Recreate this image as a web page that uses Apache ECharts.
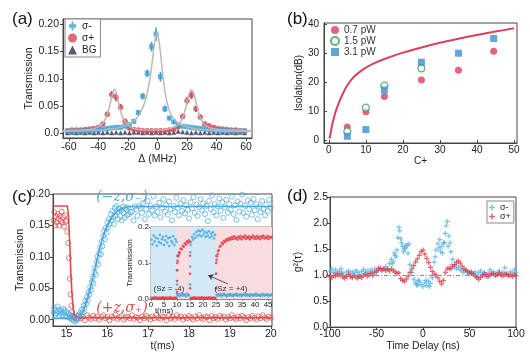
<!DOCTYPE html>
<html>
<head>
<meta charset="utf-8">
<script src="https://cdn.jsdelivr.net/npm/echarts@6/dist/echarts.min.js"></script>
<style>
html, body { margin: 0; padding: 0; background: #fff; }
#chart { width: 530px; height: 353px; }
</style>
</head>
<body>
<div id="chart"></div>
<script>
// ---------- (a) transmission vs detuning ----------
const detuning = [-61, -58, -55, -52, -49, -46, -43, -40, -37, -34,
    -31, -28, -25, -22, -19, -16, -13, -10, -7, -4,
    -1, 2, 5, 8, 11, 14, 17, 20, 23, 26,
    29, 32, 35, 38, 41, 44, 47, 50, 53, 56,
    59];
const sigmaMinusA = [.004, .004, .004, .004, .005, .005, .006, .007, .008, .009,
    .010, .011, .011, .013, .016, .022, .038, .068, .110, .159,
    .182, .104, .045, .028, .021, .016, .013, .012, .011, .010,
    .009, .008, .007, .006, .006, .005, .005, .004, .004, .004,
    .004];
const sigmaMinusErr = [.002, .002, .002, .002, .002, .002, .002, .002, .002, .002,
    .002, .002, .002, .003, .003, .004, .005, .006, .007, .009,
    .012, .009, .006, .004, .003, .003, .002, .002, .002, .002,
    .002, .002, .002, .002, .002, .002, .002, .002, .002, .002,
    .002];
const sigmaPlusA = [.005, .006, .006, .006, .007, .008, .009, .011, .017, .035,
    .071, .066, .048, .022, .010, .007, .006, .005, .005, .005,
    .005, .005, .005, .006, .007, .012, .031, .060, .070, .045,
    .030, .017, .014, .011, .009, .008, .007, .006, .006, .005,
    .005];
const sigmaPlusErr = [.002, .002, .002, .002, .002, .002, .002, .002, .003, .005,
    .007, .007, .006, .004, .003, .002, .002, .002, .002, .002,
    .002, .002, .002, .002, .002, .003, .005, .007, .007, .006,
    .004, .003, .002, .002, .002, .002, .002, .002, .002, .002,
    .002];
const bgA = [.001, .002, .001, .002, .001, .002, .001, .002, .001, .002,
    .001, .002, .001, .002, .001, .002, .002, .001, .002, .001,
    .002, .001, .002, .001, .002, .004, .003, .002, .001, .002,
    .001, .002, .001, .002, .001, .002, .001, .002, .001, .002,
    .001];
// fitted lorentzians
const fitMinusA = [[-64, .004], [-50, .005], [-40, .006], [-30, .009], [-25, .011], [-20, .016],
    [-16, .023], [-13, .032], [-11, .041], [-9, .054], [-7, .073], [-5, .102], [-4, .122],
    [-3, .144], [-2, .165], [-1, .180], [-0.5, .185], [0, .183], [1, .170], [2, .148],
    [3, .122], [4, .098], [5, .078], [6, .062], [8, .042], [10, .031], [13, .021],
    [16, .016], [20, .012], [25, .009], [30, .007], [40, .005], [50, .004], [64, .004]];
const fitPlusA = [[-64, .005], [-50, .006], [-44, .008], [-41, .011], [-38, .016], [-36, .023],
    [-34, .035], [-33, .044], [-32, .055], [-31, .067], [-30, .076], [-29.3, .081],
    [-28.5, .079], [-27.5, .071], [-26.5, .058], [-25.5, .046], [-24.5, .036], [-23, .026],
    [-21, .018], [-19, .013], [-16, .009], [-10, .006], [0, .006], [6, .007], [10, .010],
    [13, .014], [15, .019], [16.5, .026], [18, .036], [19, .046], [20, .058], [21, .069],
    [22, .077], [23, .080], [24, .077], [25, .069], [26, .058], [27, .046], [28, .036],
    [29.5, .026], [31, .019], [33, .014], [36, .010], [42, .007], [52, .006], [64, .005]];

// ---------- (b) isolation vs C+ ----------
const cPlusB = [5, 10, 15, 25, 35, 44.5];
const iso07 = [4.5, 9.8, 15.0, 20.7, 24.1, 30.7];
const cPlus15 = [5, 10, 15, 25];
const iso15 = [3.0, 11.2, 18.8, 24.8];
const iso31 = [1.3, 3.6, 17.3, 26.9, 30.0, 35.1];
const theoryB = [[0.2, 0.5], [0.5, 2.6], [1, 5.8], [1.5, 8.3], [2, 10.4], [3, 13.8], [4, 16.6],
    [5, 18.9], [6, 20.7], [7, 22.1], [8, 23.2], [10, 25.0], [12, 26.4], [15, 28.0],
    [20, 30.2], [25, 32.0], [30, 33.6], [35, 35.0], [40, 36.3], [45, 37.5], [50, 38.6]];

// ---------- (c) time trace ----------
const blueTrace = [[14.68, .012], [14.70, .019], [14.72, .008], [14.74, .015], [14.76, .010], [14.78, .021],
    [14.80, .013], [14.82, .006], [14.84, .016], [14.86, .010], [14.88, .014], [14.90, .007], [14.92, .017],
    [14.94, .011], [14.96, .015], [14.98, .006], [15.00, .012], [15.02, .004], [15.04, .010], [15.06, .003],
    [15.08, .008], [15.10, .002], [15.12, .006], [15.14, .000], [15.16, .004], [15.18, -.002], [15.20, .003],
    [15.22, -.003], [15.24, .002], [15.26, .006], [15.28, .001], [15.30, .008], [15.32, .004], [15.34, .011],
    [15.36, .006], [15.38, .016], [15.40, .012], [15.42, .022], [15.44, .018], [15.46, .030], [15.48, .025],
    [15.50, .036], [15.52, .031], [15.54, .044], [15.56, .040], [15.58, .052], [15.60, .047], [15.62, .060],
    [15.64, .068], [15.66, .058], [15.68, .075], [15.70, .083], [15.72, .072], [15.74, .092], [15.76, .100],
    [15.78, .088], [15.80, .106], [15.82, .115], [15.84, .104], [15.86, .124], [15.88, .117], [15.90, .133],
    [15.92, .141], [15.94, .128], [15.96, .146], [15.98, .138], [16.00, .155], [16.02, .147], [16.04, .160],
    [16.06, .152], [16.08, .168], [16.10, .158], [16.12, .173], [16.14, .163], [16.16, .152], [16.18, .178],
    [16.20, .166], [16.22, .181], [16.24, .171], [16.26, .160], [16.28, .177], [16.30, .176], [16.32, .165],
    [16.34, .174], [16.36, .158], [16.38, .180], [16.40, .170], [16.42, .162], [16.44, .178], [16.46, .175],
    [16.48, .166], [16.50, .179], [16.53, .168], [16.57, .171], [16.60, .172], [16.64, .158], [16.67, .180],
    [16.71, .175], [16.74, .165], [16.78, .181], [16.81, .178], [16.85, .170], [16.88, .186], [16.92, .160],
    [16.95, .176], [16.99, .189], [17.02, .168], [17.06, .181], [17.09, .174], [17.13, .196], [17.16, .166],
    [17.20, .180], [17.23, .171], [17.27, .186], [17.30, .163], [17.34, .178], [17.37, .192], [17.41, .172],
    [17.44, .183], [17.48, .167], [17.51, .188], [17.55, .176], [17.58, .158], [17.62, .181], [17.65, .171],
    [17.69, .194], [17.72, .178], [17.76, .166], [17.79, .185], [17.83, .173], [17.86, .190], [17.90, .169],
    [17.93, .182], [17.97, .175], [18.00, .161], [18.04, .187], [18.07, .177], [18.11, .195], [18.14, .170],
    [18.18, .183], [18.21, .165], [18.25, .179], [18.28, .192], [18.32, .174], [18.35, .185], [18.39, .168],
    [18.42, .181], [18.46, .157], [18.49, .189], [18.53, .176], [18.56, .198], [18.60, .171], [18.63, .184],
    [18.67, .166], [18.70, .180], [18.74, .193], [18.77, .173], [18.81, .187], [18.84, .162], [18.88, .179],
    [18.91, .191], [18.95, .170], [18.98, .184], [19.02, .175], [19.05, .196], [19.09, .168], [19.12, .182],
    [19.16, .159], [19.19, .188], [19.23, .172], [19.26, .185], [19.30, .199], [19.33, .170], [19.37, .181],
    [19.40, .164], [19.44, .190], [19.47, .176], [19.51, .186], [19.54, .167], [19.58, .192], [19.61, .174],
    [19.65, .184], [19.68, .160], [19.72, .180], [19.75, .171], [19.79, .189], [19.82, .176], [19.86, .166],
    [19.89, .183], [19.93, .173], [19.96, .191], [20.00, .178]];
const redTrace = [[14.68, .158], [14.70, .171], [14.72, .150], [14.74, .164], [14.76, .155], [14.78, .168],
    [14.80, .160], [14.82, .150], [14.84, .165], [14.86, .157], [14.88, .172], [14.90, .154], [14.92, .163],
    [14.94, .148], [14.96, .166], [14.98, .156], [15.00, .158], [15.02, .140], [15.04, .122], [15.06, .098],
    [15.08, .065], [15.10, .040], [15.12, .022], [15.14, .012], [15.16, .006], [15.18, .003],
    [15.20, .004], [15.25, .000], [15.30, .006], [15.35, .002], [15.40, .005], [15.45, -.001], [15.50, .007],
    [15.55, .003], [15.60, .001], [15.65, .006], [15.70, .002], [15.75, .005], [15.80, .000], [15.85, .004],
    [15.90, .007], [15.95, .002], [16.00, .004], [16.05, -.001], [16.10, .005], [16.15, .003], [16.20, .008],
    [16.25, .001], [16.30, .004], [16.35, .006], [16.40, .000], [16.45, .003], [16.50, .005], [16.55, .002],
    [16.60, .007], [16.65, .001], [16.70, .004], [16.75, .003], [16.80, -.001], [16.85, .005], [16.90, .002],
    [16.95, .006], [17.00, .003], [17.05, .000], [17.10, .005], [17.15, .002], [17.20, .007], [17.25, .003],
    [17.30, .001], [17.35, .005], [17.40, .004], [17.45, -.001], [17.50, .006], [17.55, .002], [17.60, .004],
    [17.65, .001], [17.70, .007], [17.75, .003], [17.80, .005], [17.85, .000], [17.90, .004], [17.95, .002],
    [18.00, .006], [18.05, .003], [18.10, .000], [18.15, .005], [18.20, .002], [18.25, .007], [18.30, .003],
    [18.35, .001], [18.40, .005], [18.45, .004], [18.50, -.001], [18.55, .006], [18.60, .002], [18.65, .004],
    [18.70, .001], [18.75, .006], [18.80, .003], [18.85, .005], [18.90, .000], [18.95, .004], [19.00, .002],
    [19.05, .007], [19.10, .003], [19.15, .001], [19.20, .005], [19.25, .002], [19.30, .006], [19.35, .003],
    [19.40, -.001], [19.45, .004], [19.50, .002], [19.55, .006], [19.60, .003], [19.65, .000], [19.70, .005],
    [19.75, .002], [19.80, .007], [19.85, .003], [19.90, .001], [19.95, .005], [20.00, .003]];
const blueFitC = [[14.67, .002], [15.2, .002], [15.3, .004], [15.4, .012], [15.5, .030], [15.6, .055],
    [15.7, .082], [15.8, .110], [15.9, .133], [16.0, .150], [16.1, .162], [16.2, .170], [16.3, .175],
    [16.45, .179], [16.6, .180], [20.03, .180]];
const redFitC = [[14.67, .181], [15.02, .181], [15.05, .165], [15.08, .120], [15.11, .070], [15.14, .035],
    [15.17, .015], [15.20, .006], [15.30, .003], [20.03, .003]];

// inset: longer record, alternating spin states
const insetBlue = [[0.2, .165], [0.6, .152], [1.0, .176], [1.4, .160], [1.8, .170], [2.2, .148], [2.6, .168],
    [3.0, .158], [3.4, .178], [3.8, .155], [4.2, .166], [4.6, .172], [5.0, .150], [5.4, .163], [5.8, .175],
    [6.2, .157], [6.6, .169], [7.0, .147], [7.4, .171], [7.8, .161], [8.2, .156], [8.6, .174], [9.0, .150],
    [9.4, .166], [9.8, .159],
    [10.0, .120], [10.0, .080], [10.0, .040], [10.05, .015],
    [10.2, .010], [10.6, .014], [11.0, .008], [11.4, .012], [11.8, .016], [12.2, .009], [12.6, .013],
    [13.0, .011], [13.4, .007], [13.8, .015], [14.2, .010], [14.6, .012],
    [15.0, .040], [15.05, .090], [15.1, .130], [15.2, .150],
    [15.4, .158], [15.8, .172], [16.2, .165], [16.6, .180], [17.0, .170], [17.4, .186], [17.8, .175],
    [18.2, .190], [18.6, .178], [19.0, .188], [19.4, .174], [19.8, .192], [20.2, .179], [20.6, .186],
    [21.0, .172], [21.4, .184], [21.8, .176], [22.2, .188], [22.6, .170], [23.0, .182], [23.4, .174],
    [23.8, .185], [24.2, .168], [24.6, .178],
    [25.0, .120], [25.0, .070], [25.05, .030],
    [25.2, .012], [25.6, .009], [26.0, .014], [26.4, .010], [26.8, .013], [27.2, .008], [27.6, .012],
    [28.0, .015], [28.4, .010], [28.8, .011], [29.2, .007], [29.6, .013], [30.0, .010], [30.4, .014],
    [30.8, .009], [31.2, .012], [31.6, .008], [32.0, .013], [32.4, .011], [32.8, .015], [33.2, .009],
    [33.6, .012], [34.0, .010], [34.4, .014], [34.8, .008], [35.2, .012], [35.6, .011], [36.0, .015],
    [36.4, .009], [36.8, .013], [37.2, .010], [37.6, .012], [38.0, .008], [38.4, .014], [38.8, .011],
    [39.2, .009], [39.6, .013], [40.0, .010], [40.4, .015], [40.8, .009], [41.2, .012], [41.6, .011],
    [42.0, .008], [42.4, .013], [42.8, .010], [43.2, .014], [43.6, .009], [44.0, .012], [44.4, .011],
    [44.8, .013], [45.2, .008], [45.6, .012], [46.0, .010], [46.4, .013]];
const insetRed = [[0.2, .003], [0.6, .001], [1.0, .004], [1.4, .002], [1.8, .005], [2.2, .002], [2.6, .003],
    [3.0, .000], [3.4, .004], [3.8, .002], [4.2, .003], [4.6, .005], [5.0, .001], [5.4, .003], [5.8, .002],
    [6.2, .004], [6.6, .001], [7.0, .003], [7.4, .005], [7.8, .002], [8.2, .003], [8.6, .001], [9.0, .004],
    [9.4, .002], [9.8, .003],
    [10.0, .020], [10.0, .050], [10.05, .080], [10.1, .100],
    [10.2, .106], [10.4, .118], [10.6, .122], [10.8, .130], [11.0, .128], [11.4, .140], [11.8, .138],
    [12.2, .148], [12.6, .145], [13.0, .155], [13.4, .151], [13.8, .160], [14.2, .156], [14.6, .163],
    [14.9, .159],
    [15.0, .120], [15.0, .070], [15.05, .030],
    [15.2, .003], [15.6, .001], [16.0, .004], [16.4, .002], [16.8, .005], [17.2, .001], [17.6, .003],
    [18.0, .002], [18.4, .004], [18.8, .001], [19.2, .003], [19.6, .005], [20.0, .002], [20.4, .003],
    [20.8, .001], [21.2, .004], [21.6, .002], [22.0, .003], [22.4, .005], [22.8, .001], [23.2, .003],
    [23.6, .002], [24.0, .004], [24.4, .001], [24.8, .003],
    [25.0, .030], [25.0, .070], [25.05, .100],
    [25.2, .108], [25.4, .118], [25.6, .125], [25.8, .133], [26.0, .136], [26.4, .145], [26.8, .148],
    [27.2, .156], [27.6, .153], [28.0, .161], [28.4, .158], [28.8, .165], [29.2, .162], [29.6, .168],
    [30.0, .164], [30.4, .170], [30.8, .166], [31.2, .172], [31.6, .167], [32.0, .174], [32.4, .168],
    [32.8, .171], [33.2, .165], [33.6, .173], [34.0, .169], [34.4, .175], [34.8, .166], [35.2, .172],
    [35.6, .170], [36.0, .176], [36.4, .167], [36.8, .173], [37.2, .169], [37.6, .174], [38.0, .166],
    [38.4, .172], [38.8, .170], [39.2, .176], [39.6, .168], [40.0, .173], [40.4, .167], [40.8, .175],
    [41.2, .169], [41.6, .172], [42.0, .166], [42.4, .174], [42.8, .170], [43.2, .176], [43.6, .168],
    [44.0, .172], [44.4, .169], [44.8, .175], [45.2, .167], [45.6, .173], [46.0, .170], [46.4, .172]];

// ---------- (d) g2 correlation ----------
const delayNs = [-100, -98, -96, -94, -92, -90, -88, -86, -84, -82,
    -80, -78, -76, -74, -72, -70, -68, -66, -64, -62,
    -60, -58, -56, -54, -52, -50, -48, -46, -44, -42,
    -40, -38, -36, -34, -32, -30, -28, -26, -24, -22,
    -20, -18, -16, -14, -12, -10, -8, -6, -4, -2,
    0, 2, 4, 6, 8, 10, 12, 14, 16, 18,
    20, 22, 24, 26, 28, 30, 32, 34, 36, 38,
    40, 42, 44, 46, 48, 50, 52, 54, 56, 58,
    60, 62, 64, 66, 68, 70, 72, 74, 76, 78,
    80, 82, 84, 86, 88, 90, 92, 94, 96, 98,
    100];
const g2Minus = [1.08, 1.12, 1.05, 1.10, 1.02, 1.07, 1.12, 1.04, 0.98, 1.06,
    1.08, 1.03, 1.06, 1.02, 1.09, 1.05, 1.01, 1.07, 1.11, 1.04,
    1.08, 1.03, 1.10, 1.06, 1.12, 1.05, 1.09, 1.14, 1.08, 1.11,
    1.16, 1.12, 1.22, 1.30, 1.26, 1.38, 1.48, 1.92, 1.70, 1.55,
    1.50, 1.58, 1.42, 1.20, 1.05, 0.92, 0.85, 0.80, 0.88, 0.82,
    0.78, 0.85, 0.80, 0.88, 0.84, 0.95, 1.25, 1.48, 1.60, 1.68,
    1.55, 1.62, 1.80, 2.03, 1.75, 1.45, 1.30, 1.18, 1.12, 1.15,
    1.10, 1.08, 1.05, 1.09, 1.04, 1.02, 1.07, 1.03, 1.06, 0.98,
    1.04, 1.08, 1.01, 1.05, 0.97, 1.03, 1.10, 1.02, 1.06, 0.99,
    1.04, 1.08, 1.01, 1.05, 1.14, 1.03, 0.99, 1.06, 1.02, 1.10,
    1.04];
const g2MinusExtra = [[-33, 1.22], [-31, 1.42], [-29, 1.35], [-27, 1.72], [-25, 1.85], [-23, 1.62],
    [-21, 1.45], [-19, 1.52], [-17, 1.56], [-15, 1.60], [-7, 0.82], [-5, 0.90], [3, 0.90], [7, 0.78],
    [13, 1.35], [17, 1.52], [19, 1.45], [21, 1.42], [23, 1.62], [25, 1.95], [27, 1.55], [29, 1.62], [31, 1.20]];
const g2Plus = [0.97, 0.95, 1.00, 0.98, 1.03, 0.99, 1.02, 0.96, 0.94, 0.98,
    1.01, 0.97, 0.95, 0.99, 0.96, 0.94, 0.97, 0.95, 0.99, 1.02,
    0.98, 1.00, 1.03, 0.99, 1.05, 1.08, 1.13, 1.12, 1.10, 1.12,
    1.09, 1.11, 1.08, 1.12, 1.09, 1.06, 1.03, 1.04, 0.93, 0.90,
    0.88, 0.92, 0.98, 1.05, 1.12, 1.18, 1.25, 1.31, 1.38, 1.45,
    1.48, 1.40, 1.32, 1.24, 1.15, 1.07, 1.02, 1.00, 0.95, 0.88,
    0.83, 0.90, 1.05, 1.12, 1.13, 1.12, 1.16, 1.20, 1.25, 1.27,
    1.23, 1.17, 1.12, 1.10, 1.07, 1.05, 1.04, 1.02, 0.98, 0.95,
    0.92, 0.96, 0.99, 1.02, 1.01, 0.97, 1.00, 1.03, 1.02, 0.99,
    1.01, 1.04, 1.00, 0.98, 1.02, 1.01, 0.99, 1.00, 0.97, 1.01,
    0.99];

const FONT = 'Liberation Sans';
const AX = '#444';
const BLUE_A = '#3aa0d8', RED_A = '#db4552';
const BLUE_C = '#4aa8dc', RED_C = '#e04a4a';
const PLUS = 'path://M1.5,0H2.5V1.5H4V2.5H2.5V4H1.5V2.5H0V1.5H1.5Z';

const zip = (xs, ys) => xs.map((x, i) => [x, ys[i]]);
const errData = (xs, ys, es) => xs.map((x, i) => [x, ys[i] - es[i], ys[i] + es[i]]);

function renderErr(params, api) {
    const p1 = api.coord([api.value(0), api.value(1)]);
    const p2 = api.coord([api.value(0), api.value(2)]);
    return {
        type: 'line',
        shape: { x1: p1[0], y1: p1[1], x2: p2[0], y2: p2[1] },
        style: { stroke: api.visual('color'), lineWidth: 1.6 }
    };
}

function axis(extra, fontSize) {
    const base = {
        axisLine: { show: true, onZero: false, lineStyle: { color: AX } },
        axisTick: { show: true, length: 3, lineStyle: { color: AX } },
        axisLabel: { color: '#222', fontSize: fontSize, fontFamily: FONT },
        splitLine: { show: false },
        nameLocation: 'middle',
        nameTextStyle: { color: '#222', fontSize: fontSize, fontFamily: FONT }
    };
    const out = Object.assign({}, base, extra);
    ['axisLine', 'axisTick', 'axisLabel', 'nameTextStyle'].forEach(k => {
        if (extra[k]) out[k] = Object.assign({}, base[k], extra[k]);
    });
    return out;
}

const gridBox = { show: true, borderColor: AX, borderWidth: 1, backgroundColor: 'transparent' };

const chart = echarts.init(document.getElementById('chart'));

const option = {
    animation: false,
    backgroundColor: '#fff',
    grid: [
        Object.assign({ left: 63, top: 19, width: 189, height: 119 }, gridBox),
        Object.assign({ left: 324, top: 23, width: 193, height: 120 }, gridBox),
        Object.assign({ left: 53, top: 194, width: 219, height: 134 }, gridBox),
        Object.assign({ left: 151, top: 227, width: 121, height: 72, z: 6 }, gridBox, { borderColor: '#888' }),
        Object.assign({ left: 330, top: 197, width: 186, height: 131 }, gridBox)
    ],
    xAxis: [
        axis({
            gridIndex: 0, type: 'value', min: -64, max: 64,
            axisTick: { customValues: [-60, -40, -20, 0, 20, 40, 60] },
            axisLabel: { customValues: [-60, -40, -20, 0, 20, 40, 60], margin: 4 },
            name: 'Δ (MHz)', nameGap: 14
        }, 10.5),
        axis({
            gridIndex: 1, type: 'value', min: -1.3, max: 50.8,
            axisTick: { customValues: [0, 10, 20, 30, 40, 50], inside: true },
            axisLabel: { customValues: [0, 10, 20, 30, 40, 50], margin: 2 },
            name: 'C+', nameGap: 10
        }, 10),
        axis({
            gridIndex: 2, type: 'value', min: 14.67, max: 20.03,
            axisTick: { customValues: [15, 16, 17, 18, 19, 20] },
            axisLabel: { customValues: [15, 16, 17, 18, 19, 20], margin: 3 },
            name: 't(ms)', nameGap: 13
        }, 10.5),
        axis({
            gridIndex: 3, type: 'value', min: 0, max: 46.5, interval: 5,
            axisLine: { lineStyle: { color: '#888' } },
            axisTick: { length: 2, lineStyle: { color: '#888' } },
            axisLabel: { margin: 2 }
        }, 8),
        axis({
            gridIndex: 4, type: 'value', min: -100, max: 100, interval: 50,
            axisLabel: { margin: 2 },
            name: 'Time Delay (ns)', nameGap: 12
        }, 10.5)
    ],
    yAxis: [
        axis({
            gridIndex: 0, type: 'value', min: -0.0085, max: 0.2097,
            axisTick: { customValues: [0, 0.05, 0.1, 0.15, 0.2] },
            axisLabel: {
                customValues: [0, 0.05, 0.1, 0.15, 0.2], margin: 4,
                formatter: v => (v === 0 ? '0.0' : v.toFixed(2))
            },
            name: 'Transmission', nameGap: 27
        }, 10.5),
        axis({
            gridIndex: 1, type: 'value', min: -1.04, max: 40.45,
            axisTick: { customValues: [0, 10, 20, 30, 40], inside: true },
            axisLabel: { customValues: [0, 10, 20, 30, 40], margin: 5 },
            name: 'Isolation(dB)', nameGap: 18
        }, 10),
        axis({
            gridIndex: 2, type: 'value', min: -0.0103, max: 0.2,
            axisTick: { customValues: [0, 0.05, 0.1, 0.15, 0.2] },
            axisLabel: {
                customValues: [0, 0.05, 0.1, 0.15, 0.2], margin: 3,
                formatter: v => v.toFixed(2)
            },
            name: 'Transmission', nameGap: 20
        }, 10.5),
        axis({
            gridIndex: 3, type: 'value', min: 0, max: 0.2, interval: 0.1,
            axisLine: { lineStyle: { color: '#888' } },
            axisTick: { length: 2, lineStyle: { color: '#888' } },
            axisLabel: { margin: 2, formatter: v => v.toFixed(1) },
            name: 'Transmission', nameGap: 11
        }, 8),
        axis({
            gridIndex: 4, type: 'value', min: 0, max: 2.5, interval: 0.5,
            axisLabel: { margin: 2, formatter: v => v.toFixed(1) },
            name: 'g²(τ)', nameGap: 26
        }, 10.5)
    ],
    legend: [
        {
            left: 65, top: 19, orient: 'vertical', itemGap: 2, itemWidth: 9, itemHeight: 9,
            padding: [2, 4, 2, 3], borderColor: '#888', borderWidth: 1, backgroundColor: '#fff',
            textStyle: { fontSize: 10, fontFamily: FONT, color: '#222' },
            data: [
                { name: 'σ-', icon: 'path://M4,0H6V3H9V7H6V10H4V7H1V3H4Z', itemStyle: { color: BLUE_A } },
                { name: 'σ+', icon: 'circle', itemStyle: { color: RED_A } },
                { name: 'BG', icon: 'triangle', itemStyle: { color: '#2d3550' } }
            ]
        },
        {
            left: 328, top: 23, orient: 'vertical', itemGap: 1, itemWidth: 8, itemHeight: 8,
            padding: 2,
            textStyle: { fontSize: 10, lineHeight: 10, fontFamily: FONT, color: '#333' },
            data: ['0.7 pW', '1.5 pW', '3.1 pW']
        },
        {
            left: 487, top: 201, orient: 'vertical', itemGap: 0, itemWidth: 6, itemHeight: 6,
            padding: [2, 3, 2, 2], borderColor: '#888', borderWidth: 1, backgroundColor: '#fff',
            textStyle: { fontSize: 9, lineHeight: 9, fontFamily: FONT, color: '#222' },
            data: [
                { name: 'σ-', icon: PLUS, itemStyle: { color: '#5ab4e4' } },
                { name: 'σ+', icon: PLUS, itemStyle: { color: '#d6404a' } }
            ]
        }
    ],
    series: [
        // (a)
        { type: 'line', xAxisIndex: 0, yAxisIndex: 0, data: fitPlusA, symbol: 'none', smooth: 0.3,
          lineStyle: { color: '#b9b9b9', width: 1.5 }, silent: true },
        { type: 'line', xAxisIndex: 0, yAxisIndex: 0, data: fitMinusA, symbol: 'none', smooth: 0.3,
          lineStyle: { color: '#b9b9b9', width: 1.5 }, silent: true },
        { name: 'BG', type: 'scatter', xAxisIndex: 0, yAxisIndex: 0, data: zip(detuning, bgA),
          symbol: 'triangle', symbolSize: 5, itemStyle: { color: '#2d3550' } },
        { type: 'custom', xAxisIndex: 0, yAxisIndex: 0, renderItem: renderErr,
          data: errData(detuning, sigmaPlusA, sigmaPlusErr), encode: { x: 0, y: [1, 2] },
          itemStyle: { color: RED_A } },
        { name: 'σ+', type: 'scatter', xAxisIndex: 0, yAxisIndex: 0, data: zip(detuning, sigmaPlusA),
          symbol: 'circle', symbolSize: 5.5, itemStyle: { color: RED_A } },
        { type: 'custom', xAxisIndex: 0, yAxisIndex: 0, renderItem: renderErr,
          data: errData(detuning, sigmaMinusA, sigmaMinusErr), encode: { x: 0, y: [1, 2] },
          itemStyle: { color: BLUE_A } },
        { name: 'σ-', type: 'scatter', xAxisIndex: 0, yAxisIndex: 0, data: zip(detuning, sigmaMinusA),
          symbol: 'rect', symbolSize: 5, itemStyle: { color: BLUE_A } },

        // (b)
        { type: 'line', xAxisIndex: 1, yAxisIndex: 1, data: theoryB, symbol: 'none', smooth: 0.3,
          lineStyle: { color: '#dc3f5a', width: 2 }, silent: true },
        { name: '0.7 pW', type: 'scatter', xAxisIndex: 1, yAxisIndex: 1, data: zip(cPlusB, iso07),
          symbol: 'circle', symbolSize: 7, itemStyle: { color: '#dc3f5a' } },
        { name: '1.5 pW', type: 'scatter', xAxisIndex: 1, yAxisIndex: 1, data: zip(cPlus15, iso15),
          symbol: 'circle', symbolSize: 7,
          itemStyle: { color: '#fff', borderColor: '#3d9e5c', borderWidth: 1.3 } },
        { name: '3.1 pW', type: 'scatter', xAxisIndex: 1, yAxisIndex: 1, data: zip(cPlusB, iso31),
          symbol: 'rect', symbolSize: 7, itemStyle: { color: '#3d8fd0' } },

        // (c) main
        { type: 'line', xAxisIndex: 2, yAxisIndex: 2, data: redFitC, symbol: 'none',
          lineStyle: { color: RED_C, width: 1.6 }, silent: true },
        { type: 'line', xAxisIndex: 2, yAxisIndex: 2, data: blueFitC, symbol: 'none', smooth: 0.3,
          lineStyle: { color: BLUE_C, width: 1.6 }, silent: true },
        { type: 'scatter', xAxisIndex: 2, yAxisIndex: 2, data: redTrace, symbol: 'circle', symbolSize: 5,
          itemStyle: { color: 'transparent', borderColor: RED_C, borderWidth: 0.9 } },
        { type: 'scatter', xAxisIndex: 2, yAxisIndex: 2, data: blueTrace, symbol: 'circle', symbolSize: 5,
          itemStyle: { color: 'transparent', borderColor: BLUE_C, borderWidth: 0.9 } },

        // (c) inset
        { type: 'scatter', xAxisIndex: 3, yAxisIndex: 3, data: insetBlue, symbol: 'circle', symbolSize: 2.6,
          z: 10, itemStyle: { color: '#3ea3dc' },
          markArea: {
              silent: true, z: 8,
              data: [
                  [{ xAxis: 0, itemStyle: { color: '#d3e9f7' } }, { xAxis: 10 }],
                  [{ xAxis: 10, itemStyle: { color: '#f9dcdf' } }, { xAxis: 15 }],
                  [{ xAxis: 15, itemStyle: { color: '#d3e9f7' } }, { xAxis: 25 }],
                  [{ xAxis: 25, itemStyle: { color: '#f9dcdf' } }, { xAxis: 46.5 }]
              ]
          } },
        { type: 'scatter', xAxisIndex: 3, yAxisIndex: 3, data: insetRed, symbol: 'circle', symbolSize: 2.6,
          z: 10, itemStyle: { color: '#e03a42' },
          markLine: {
              silent: true, z: 12, symbol: ['none', 'arrow'], symbolSize: 5,
              lineStyle: { color: '#333', type: 'solid', width: 0.8 }, label: { show: false },
              data: [[{ coord: [29.5, 0.042] }, { coord: [22, 0.066] }]]
          } },

        // (d)
        { name: 'σ-', type: 'scatter', xAxisIndex: 4, yAxisIndex: 4, data: zip(delayNs, g2Minus),
          symbol: PLUS, symbolSize: 5, itemStyle: { color: '#5ab4e4' } },
        { name: 'σ-', type: 'scatter', xAxisIndex: 4, yAxisIndex: 4, data: g2MinusExtra,
          symbol: PLUS, symbolSize: 5, itemStyle: { color: '#5ab4e4' } },
        { name: 'σ+', type: 'scatter', xAxisIndex: 4, yAxisIndex: 4, data: zip(delayNs, g2Plus),
          symbol: PLUS, symbolSize: 5, itemStyle: { color: '#d6404a' },
          markLine: {
              silent: true, symbol: 'none', label: { show: false },
              lineStyle: { color: '#7f88b8', type: [4, 2, 1, 2], width: 1 },
              data: [{ yAxis: 1 }]
          } }
    ],
    graphic: [
        { type: 'text', x: 12, y: 11, style: { text: '(a)', fontSize: 17, fontFamily: FONT, fill: '#111' } },
        { type: 'text', x: 287, y: 11, style: { text: '(b)', fontSize: 17, fontFamily: FONT, fill: '#111' } },
        { type: 'text', x: 12, y: 189, style: { text: '(c)', fontSize: 17, fontFamily: FONT, fill: '#111' } },
        { type: 'text', x: 287, y: 188, style: { text: '(d)', fontSize: 17, fontFamily: FONT, fill: '#111' } },
        { type: 'text', x: 122, y: 197, z: 20, style: { text: '(−z,σ₋)', fontSize: 14, fontStyle: 'italic',
          fontFamily: 'DejaVu Serif', fill: BLUE_C, align: 'center', verticalAlign: 'middle' } },
        { type: 'text', x: 122, y: 308, z: 20, style: { text: '(+z,σ₊)', fontSize: 14, fontStyle: 'italic',
          fontFamily: 'DejaVu Serif', fill: RED_C, align: 'center', verticalAlign: 'middle' } },
        { type: 'text', x: 169, y: 289, z: 20, style: { text: '(Sz = -4)', fontSize: 8, fontFamily: FONT,
          fill: '#333', align: 'center', verticalAlign: 'middle' } },
        { type: 'text', x: 231, y: 289, z: 20, style: { text: '(Sz = +4)', fontSize: 8, fontFamily: FONT,
          fill: '#333', align: 'center', verticalAlign: 'middle' } },
        { type: 'text', x: 164, y: 311, z: 20, style: { text: 't(ms)', fontSize: 8, fontFamily: FONT,
          fill: '#222', align: 'center', verticalAlign: 'middle' } }
    ]
};

chart.setOption(option);
window.addEventListener('resize', () => {
    chart.resize();
});
</script>
</body>
</html>
